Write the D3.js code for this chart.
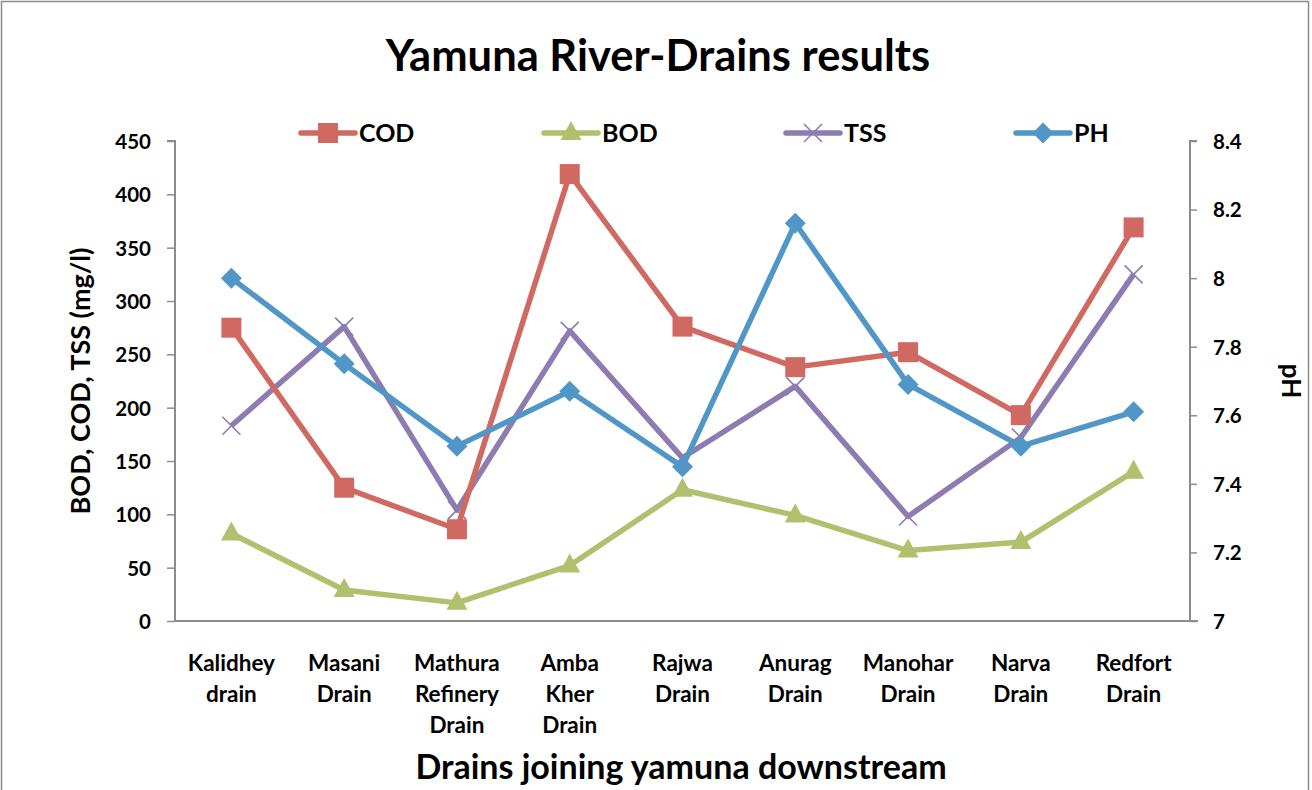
<!DOCTYPE html>
<html>
<head>
<meta charset="utf-8">
<script src="https://cdn.jsdelivr.net/npm/d3@7"></script>
<style>
  body { margin: 0; background: #fff; }
  text { font-family: Lato, "Open Sans", sans-serif; font-weight: bold; fill: #000; }
</style>
</head>
<body>
<svg id="chart" width="1312" height="790"></svg>
<script>
// Drain names (one entry per line of the axis label)
const drains = [
  ["Kalidhey", "drain"],
  ["Masani", "Drain"],
  ["Mathura", "Refinery", "Drain"],
  ["Amba", "Kher", "Drain"],
  ["Rajwa", "Drain"],
  ["Anurag", "Drain"],
  ["Manohar", "Drain"],
  ["Narva", "Drain"],
  ["Redfort", "Drain"]
];
// Measured values, mg/l
const cod = [275, 125, 86, 419, 276, 238, 252, 193, 369];
const bod = [82, 29, 17, 52, 123, 99, 66, 74, 140];
const tss = [183, 276, 104, 272, 153, 220, 98, 172, 325];
// pH values (secondary axis)
const ph = [8.0, 7.75, 7.51, 7.67, 7.45, 8.16, 7.69, 7.51, 7.61];

const leftTicks = [0, 50, 100, 150, 200, 250, 300, 350, 400, 450];
const rightTicks = [7, 7.2, 7.4, 7.6, 7.8, 8, 8.2, 8.4];
const rightTickLabels = ["7", "7.2", "7.4", "7.6", "7.8", "8", "8.2", "8.4"];

const svg = d3.select("#chart");
const W = 1312, H = 790;
const plot = { left: 175, right: 1190, top: 141, bottom: 621 };

const names = drains.map(d => d.join(" "));
const x = d3.scalePoint().domain(names).range([plot.left, plot.right]).padding(0.5);
const yL = d3.scaleLinear().domain([0, 450]).range([plot.bottom, plot.top]);
const yR = d3.scaleLinear().domain([7, 8.4]).range([plot.bottom, plot.top]);

const colors = { COD: "#cf6961", BOD: "#afc16d", TSS: "#8d7cb1", PH: "#5097c8" };
const axisGrey = "#8c8c8c";

// outer chart frame
svg.append("rect").attr("x", 1.5).attr("y", 1.5).attr("width", W - 5).attr("height", H + 10)
  .attr("fill", "none").attr("stroke", "#8c8c8c").attr("stroke-width", 1.5);

// title
svg.append("text").attr("x", 658).attr("y", 71).attr("text-anchor", "middle")
  .style("font-size", "43.5px").text("Yamuna River-Drains results");

// left axis
const leftAxis = d3.axisLeft(yL).tickValues(leftTicks).tickSize(8).tickPadding(16).tickFormat(d3.format("d"));
const gL = svg.append("g").attr("transform", `translate(${plot.left},0)`).call(leftAxis);
gL.select(".domain").attr("stroke", axisGrey).attr("stroke-width", 2).attr("d", `M-8,${plot.top}H0V${plot.bottom}`);
gL.selectAll(".tick line").attr("stroke", axisGrey).attr("stroke-width", 1.5);
gL.selectAll(".tick text").style("font-size", "20.5px").attr("font-family", null).attr("dy", "0.36em");

// right axis
const rightAxis = d3.axisRight(yR).tickValues(rightTicks).tickSize(7).tickPadding(16)
  .tickFormat((d, i) => rightTickLabels[i]);
const gR = svg.append("g").attr("transform", `translate(${plot.right},0)`).call(rightAxis);
gR.select(".domain").attr("stroke", axisGrey).attr("stroke-width", 2).attr("d", `M7,${plot.top}H0V${plot.bottom}`);
gR.selectAll(".tick line").attr("stroke", axisGrey).attr("stroke-width", 1.5);
gR.selectAll(".tick text").style("font-size", "20.5px").attr("font-family", null).attr("dy", "0.36em");

// category axis
svg.append("line").attr("x1", plot.left).attr("x2", plot.right + 8)
  .attr("y1", plot.bottom).attr("y2", plot.bottom)
  .attr("stroke", axisGrey).attr("stroke-width", 2);

const cat = svg.append("g");
drains.forEach((lines, i) => {
  const t = cat.append("text").attr("text-anchor", "middle").style("font-size", "22.5px");
  lines.forEach((ln, j) => {
    t.append("tspan").attr("x", x(names[i])).attr("y", 671 + j * 31).text(ln);
  });
});

// axis titles
svg.append("text").attr("transform", `translate(90,381) rotate(-90)`).attr("text-anchor", "middle")
  .style("font-size", "27px").text("BOD, COD, TSS (mg/l)");
svg.append("text").attr("transform", `translate(1282,381) rotate(90)`).attr("text-anchor", "middle")
  .style("font-size", "26px").text("pH");
svg.append("text").attr("x", 681).attr("y", 779).attr("text-anchor", "middle")
  .style("font-size", "34px").text("Drains joining yamuna downstream");

// marker drawing helpers
function drawMarker(g, kind, cx, cy, color) {
  if (kind === "square") {
    g.append("rect").attr("x", cx - 10).attr("y", cy - 10).attr("width", 20).attr("height", 20).attr("fill", color);
  } else if (kind === "triangle") {
    g.append("path").attr("d", `M${cx},${cy - 12}L${cx + 10.5},${cy + 7}L${cx - 10.5},${cy + 7}Z`).attr("fill", color);
  } else if (kind === "x") {
    g.append("path").attr("d", `M${cx - 9},${cy - 9}L${cx + 9},${cy + 9}M${cx - 9},${cy + 9}L${cx + 9},${cy - 9}`)
      .attr("stroke", color).attr("stroke-width", 1.6).attr("fill", "none");
  } else if (kind === "diamond") {
    g.append("path").attr("d", `M${cx},${cy - 10.5}L${cx + 10.5},${cy}L${cx},${cy + 10.5}L${cx - 10.5},${cy}Z`).attr("fill", color);
  }
}

const series = [
  { name: "TSS", values: tss, y: yL, marker: "x" },
  { name: "COD", values: cod, y: yL, marker: "square" },
  { name: "BOD", values: bod, y: yL, marker: "triangle" },
  { name: "PH", values: ph, y: yR, marker: "diamond" }
];

series.forEach(s => {
  const g = svg.append("g");
  const line = d3.line().x((d, i) => x(names[i])).y(d => s.y(d));
  g.append("path").datum(s.values).attr("d", line).attr("fill", "none")
    .attr("stroke", colors[s.name]).attr("stroke-width", 5.5).attr("stroke-linejoin", "round");
  s.values.forEach((v, i) => drawMarker(g, s.marker, x(names[i]), s.y(v), colors[s.name]));
});

// legend
const legendItems = [
  { name: "COD", marker: "square", x0: 301 },
  { name: "BOD", marker: "triangle", x0: 544 },
  { name: "TSS", marker: "x", x0: 786 },
  { name: "PH", marker: "diamond", x0: 1016 }
];
const lg = svg.append("g");
legendItems.forEach(it => {
  const g = lg.append("g");
  g.append("line").attr("x1", it.x0).attr("x2", it.x0 + 54).attr("y1", 133).attr("y2", 133)
    .attr("stroke", colors[it.name]).attr("stroke-width", 5.5).attr("stroke-linecap", "round");
  drawMarker(g, it.marker, it.x0 + 27, 133, colors[it.name]);
  g.append("text").attr("x", it.x0 + 58).attr("y", 133).attr("dy", "0.36em")
    .style("font-size", "25px").text(it.name);
});
</script>
</body>
</html>
